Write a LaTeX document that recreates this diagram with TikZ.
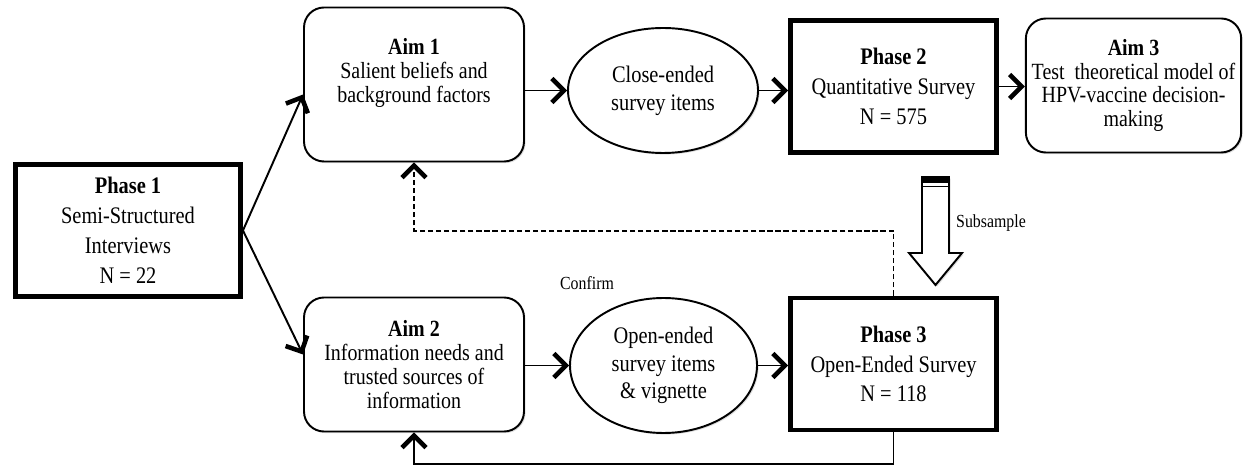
\documentclass[tikz,border=0pt]{standalone}
\usepackage{fontspec}
\setmainfont{Liberation Serif}[FakeStretch=0.86]
\usetikzlibrary{arrows.meta, shapes.geometric, shadows}

\begin{document}
\begin{tikzpicture}[
  >={Straight Barb[length=2.4mm,width=4.8mm,line width=2.6pt]},
  softshadow/.style={drop shadow={shadow xshift=0.9pt, shadow yshift=-0.9pt, opacity=0.25}},
  phase/.style={draw, line width=2.8pt, fill=white, softshadow, align=center,
    minimum width=4.12cm, minimum height=2.64cm, font=\fontsize{13.5}{17}\selectfont},
  aim/.style={draw, line width=1.1pt, fill=white, softshadow, rounded corners=0.4cm,
    align=center, minimum width=4.4cm, font=\fontsize{13.2}{13.6}\selectfont},
  survey/.style={draw, ellipse, line width=1.1pt, fill=white, softshadow, inner sep=0pt,
    align=center, font=\fontsize{13.5}{15.8}\selectfont},
  link/.style={->, line width=1.1pt},
  lbl/.style={font=\fontsize{10.5}{12}\selectfont}
]
  \useasboundingbox (0,0) rectangle (24.86,9.44);

  %% phases
  \node[phase, minimum width=4.5cm] (p1) at (2.56,4.83)
    {\textbf{Phase 1}\\Semi-Structured\\Interviews\\N = 22};
  \node[phase] (p2) at (17.87,7.71) {\textbf{Phase 2}\\Quantitative Survey\\N = 575};
  \node[phase] (p3) at (17.87,2.16) {\textbf{Phase 3}\\Open-Ended Survey\\N = 118};

  %% aims
  \node[aim, minimum height=3.08cm] (a1) at (8.28,7.75)
    {\textbf{Aim 1}\\Salient beliefs and\\background factors\\[0.2em]};
  \node[aim, minimum height=2.68cm] (a2) at (8.28,2.15)
    {\textbf{Aim 2}\\Information needs and\\trusted sources of\\information};
  \node[aim, minimum width=4.24cm, minimum height=2.68cm] (a3) at (22.67,7.73)
    {\textbf{Aim 3}\\Test~ theoretical model of\\HPV-vaccine decision-\\making};

  %% survey items
  \node[survey, minimum width=3.8cm, minimum height=2.5cm] (c1) at (13.26,7.63)
    {Close-ended\\survey items};
  \node[survey, minimum width=3.74cm, minimum height=2.7cm] (o1) at (13.27,2.13)
    {Open-ended\\survey items\\\& vignette};

  %% flow
  \draw[link] (p1.east) -- ([yshift=-0.2cm]a1.west);
  \draw[link] (p1.east) -- ([yshift=0.2cm]a2.west);
  \draw[link] (c1.west -| a1.east) -- (c1.west);
  \draw[link] (c1.east) -- (c1.east -| p2.west);
  \draw[link] (p2.east) -- (p2.east -| a3.west);
  \draw[link] (o1.west -| a2.east) -- (o1.west);
  \draw[link] (o1.east) -- (o1.east -| p3.west);
  \draw[link] (p3.south) -- ++(0,-0.64) -| (a2.south);
  \draw[link, dash pattern=on 3pt off 1.6pt] (p3.north) -- ++(0,1.3) -| (a1.south);
  \node[lbl] (confirm) at (11.74,3.78) {Confirm};

  %% subsample block arrow
  \coordinate (subtop) at (18.71,5.9);
  \begin{scope}[shift={(subtop)}]
    \draw[line width=1.1pt, fill=white, softshadow] (-0.27,0) -- (-0.27,-1.52) -- (-0.53,-1.52)
      -- (0,-2.16) -- (0.53,-1.52) -- (0.27,-1.52) -- (0.27,0) -- cycle;
    \fill (-0.27,0) rectangle (0.27,-0.12);
    \draw[line width=0.9pt] (-0.27,-0.19) -- (0.27,-0.19);
  \end{scope}
  \node[lbl, anchor=west] (subsample) at (19.0,4.98) {Subsample};
\end{tikzpicture}
\end{document}
